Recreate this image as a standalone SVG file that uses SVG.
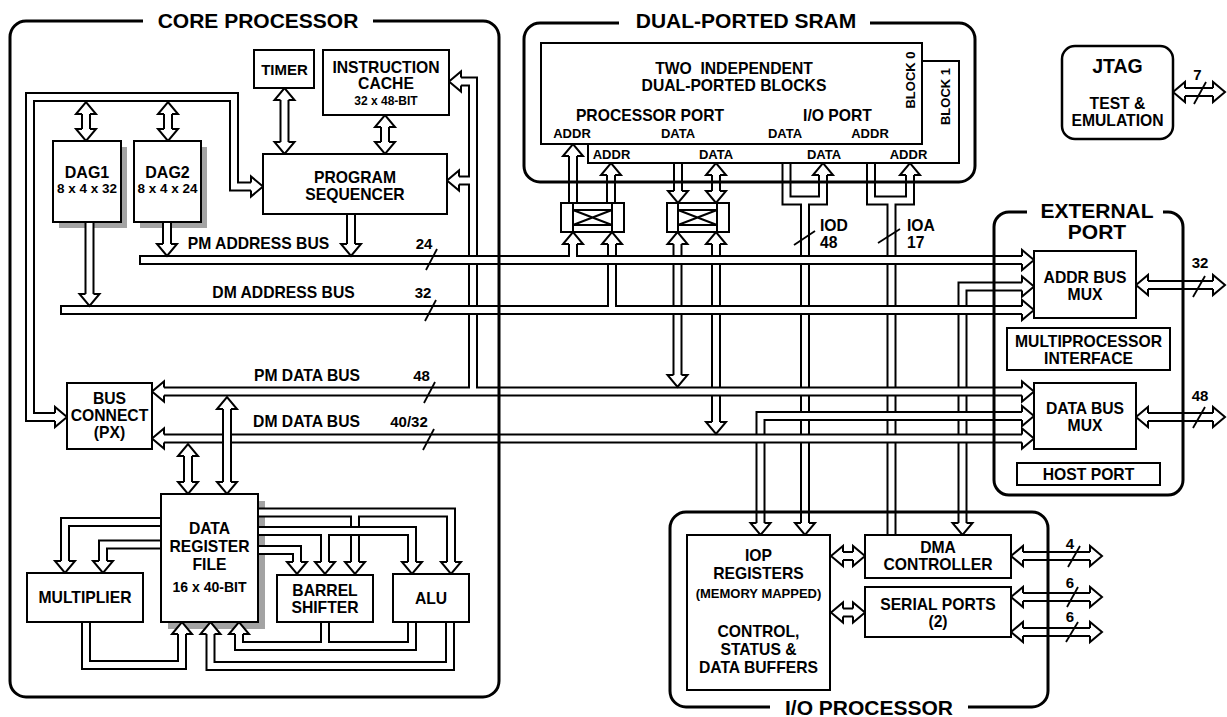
<svg xmlns="http://www.w3.org/2000/svg" width="1227" height="717" viewBox="0 0 1227 717">
<defs>
<style>
.fr{fill:none;stroke:#000;stroke-width:3}
.bx{fill:#fff;stroke:#000;stroke-width:2}
.sh{fill:#a3a3a3}
.bk{fill:none;stroke:#000;stroke-width:10}
.wh{fill:none;stroke:#fff;stroke-width:6}
.hd{fill:#fff;stroke:#000;stroke-width:2}
.ln{fill:none;stroke:#000;stroke-width:2}
.sl{fill:none;stroke:#000;stroke-width:1.8}
text{font-family:"Liberation Sans",Arial,Helvetica,sans-serif;font-weight:bold;fill:#000;text-anchor:middle}
.ttl{font-size:21px}
.m{font-size:15.7px}
.s{font-size:13px}
.n{font-size:15px}
.l{text-anchor:start}
</style>
<path id="h" d="M-12,-4V-10L0,0L-12,10V4"/>
<path id="pB1" d="M55,417H30V97H234V186.5H251"/>
<path id="pD1a" d="M86,114V129"/>
<path id="pD2a" d="M168,114V129"/>
<path id="pD1b" d="M89.5,222V294"/>
<path id="pD2b" d="M167,222V244"/>
<path id="pSeq" d="M351,214V244"/>
<path id="pTim" d="M284.5,100V142"/>
<path id="pCac" d="M385,127V142"/>
<path id="pB2" d="M461,81.5H473V391.5"/>
<path id="pB2b" d="M459,180.5H473"/>
<path id="pPMD" d="M164,391.5H1022"/>
<path id="pDMD" d="M164,438.5H1022"/>
<path id="pPMA" d="M139,260H1022"/>
<path id="pDMA" d="M60,310H1022"/>
<path id="pX1a" d="M573,244V260"/>
<path id="pX1b" d="M612,244V310"/>
<path id="pX2a" d="M677.5,244V375"/>
<path id="pX2b" d="M716,244V422"/>
<path id="pS1" d="M573,156V203"/>
<path id="pS2" d="M611,175V203"/>
<path id="pS3" d="M678,156V191"/>
<path id="pS4" d="M716,175V191"/>
<path id="pIOD1" d="M786.5,156V200.5H823V175"/>
<path id="pIOD2" d="M805,200.5V523"/>
<path id="pIOA1" d="M871,156V200.5H910V175"/>
<path id="pIOA2" d="M891.5,200.5V535"/>
<path id="pAM" d="M962.5,523V286.5H1022"/>
<path id="pDM2" d="M760.5,523V416H1022"/>
<path id="pRF1" d="M227,409V482"/>
<path id="pRF2" d="M188,456V482"/>
<path id="pMo" d="M161,522H65V561"/>
<path id="pMi" d="M161,544.5H103V561"/>
<path id="pA" d="M258,512.5H451V562"/>
<path id="pAb" d="M355,512.5V562"/>
<path id="pBb" d="M258,531H412V562"/>
<path id="pBb2" d="M325,531V562"/>
<path id="pC" d="M258,550H297V562"/>
<path id="pRm" d="M86,622V665H182V634"/>
<path id="pRa" d="M450,622V666H210.5V634"/>
<path id="pRb" d="M412,622V646H239V634"/>
<path id="pRb2" d="M325,622V646"/>
<path id="pIOd" d="M843,556H853"/>
<path id="pIOs" d="M843,612.5H853"/>
<path id="pDo" d="M1023,556H1090"/>
<path id="pS1o" d="M1023,597H1090"/>
<path id="pS2o" d="M1023,632H1090"/>
<path id="pEa" d="M1148,285H1213"/>
<path id="pEd" d="M1148,417H1213"/>
<path id="pJ" d="M1185,92H1213"/>
</defs>
<rect width="1227" height="717" fill="#fff"/>

<g id="shadows">
<rect class="sh" x="59" y="147" width="68" height="81"/>
<rect class="sh" x="140" y="147" width="67" height="81"/>
<rect class="sh" x="168" y="501" width="97" height="128"/>
</g>

<g id="connectors">
<!-- register file buses -->
<use href="#pMo" class="bk"/><use href="#pMo" class="wh"/>
<use href="#pMi" class="bk"/><use href="#pMi" class="wh"/>
<use href="#pA" class="bk"/><use href="#pAb" class="bk"/><use href="#pA" class="wh"/><use href="#pAb" class="wh"/>
<use href="#pBb" class="bk"/><use href="#pBb2" class="bk"/><use href="#pBb" class="wh"/><use href="#pBb2" class="wh"/>
<use href="#pC" class="bk"/><use href="#pC" class="wh"/>
<use href="#pRm" class="bk"/><use href="#pRm" class="wh"/>
<use href="#pRa" class="bk"/><use href="#pRa" class="wh"/>
<use href="#pRb" class="bk"/><use href="#pRb2" class="bk"/><use href="#pRb" class="wh"/><use href="#pRb2" class="wh"/>
<!-- core upper -->
<use href="#pB1" class="bk"/><use href="#pB1" class="wh"/>
<use href="#pD1a" class="bk"/><use href="#pD1a" class="wh"/>
<use href="#pD2a" class="bk"/><use href="#pD2a" class="wh"/>
<use href="#pD1b" class="bk"/><use href="#pD1b" class="wh"/>
<use href="#pD2b" class="bk"/><use href="#pD2b" class="wh"/>
<use href="#pSeq" class="bk"/><use href="#pSeq" class="wh"/>
<use href="#pTim" class="bk"/><use href="#pTim" class="wh"/>
<use href="#pCac" class="bk"/><use href="#pCac" class="wh"/>
<!-- sram ports -->
<use href="#pS1" class="bk"/><use href="#pS1" class="wh"/>
<use href="#pS2" class="bk"/><use href="#pS2" class="wh"/>
<use href="#pS3" class="bk"/><use href="#pS3" class="wh"/>
<use href="#pS4" class="bk"/><use href="#pS4" class="wh"/>
<use href="#pX2a" class="bk"/><use href="#pX2a" class="wh"/>
<use href="#pX2b" class="bk"/><use href="#pX2b" class="wh"/>
<use href="#pIOD1" class="bk"/><use href="#pIOD2" class="bk"/><use href="#pIOD1" class="wh"/><use href="#pIOD2" class="wh"/>
<use href="#pIOA1" class="bk"/><use href="#pIOA2" class="bk"/><use href="#pIOA1" class="wh"/><use href="#pIOA2" class="wh"/>
<use href="#pAM" class="bk"/><use href="#pAM" class="wh"/>
<use href="#pDM2" class="bk"/><use href="#pDM2" class="wh"/>
<!-- main buses -->
<use href="#pPMD" class="bk"/><use href="#pB2" class="bk"/><use href="#pB2b" class="bk"/>
<use href="#pPMD" class="wh"/><use href="#pB2" class="wh"/><use href="#pB2b" class="wh"/>
<use href="#pDMA" class="bk"/><use href="#pX1b" class="bk"/><use href="#pDMA" class="wh"/><use href="#pX1b" class="wh"/>
<use href="#pPMA" class="bk"/><use href="#pX1a" class="bk"/><use href="#pPMA" class="wh"/><use href="#pX1a" class="wh"/>
<use href="#pDMD" class="bk"/><use href="#pDMD" class="wh"/>
<use href="#pRF1" class="bk"/><use href="#pRF1" class="wh"/>
<use href="#pRF2" class="bk"/><use href="#pRF2" class="wh"/>
<!-- io / external -->
<use href="#pIOd" class="bk"/><use href="#pIOd" class="wh"/>
<use href="#pIOs" class="bk"/><use href="#pIOs" class="wh"/>
<use href="#pDo" class="bk"/><use href="#pDo" class="wh"/>
<use href="#pS1o" class="bk"/><use href="#pS1o" class="wh"/>
<use href="#pS2o" class="bk"/><use href="#pS2o" class="wh"/>
<use href="#pEa" class="bk"/><use href="#pEa" class="wh"/>
<use href="#pEd" class="bk"/><use href="#pEd" class="wh"/>
<use href="#pJ" class="bk"/><use href="#pJ" class="wh"/>
<!-- closed ends -->
<line class="ln" x1="140" y1="255" x2="140" y2="265"/>
<line class="ln" x1="61" y1="305" x2="61" y2="315"/>
<!-- heads -->
<g class="hd">
<use href="#h" transform="translate(67,417)"/>
<use href="#h" transform="translate(263,186.5)"/>
<use href="#h" transform="translate(86,102) rotate(-90)"/>
<use href="#h" transform="translate(86,141) rotate(90)"/>
<use href="#h" transform="translate(168,102) rotate(-90)"/>
<use href="#h" transform="translate(168,141) rotate(90)"/>
<use href="#h" transform="translate(89.5,306) rotate(90)"/>
<use href="#h" transform="translate(167,256) rotate(90)"/>
<use href="#h" transform="translate(351,256) rotate(90)"/>
<use href="#h" transform="translate(284.5,88) rotate(-90)"/>
<use href="#h" transform="translate(284.5,154) rotate(90)"/>
<use href="#h" transform="translate(385,115) rotate(-90)"/>
<use href="#h" transform="translate(385,154) rotate(90)"/>
<use href="#h" transform="translate(449,81.5) rotate(180)"/>
<use href="#h" transform="translate(447,180.5) rotate(180)"/>
<use href="#h" transform="translate(152,391.5) rotate(180)"/>
<use href="#h" transform="translate(1034,391.5)"/>
<use href="#h" transform="translate(152,438.5) rotate(180)"/>
<use href="#h" transform="translate(1034,438.5)"/>
<use href="#h" transform="translate(1034,260)"/>
<use href="#h" transform="translate(1034,310)"/>
<use href="#h" transform="translate(573,232) rotate(-90)"/>
<use href="#h" transform="translate(612,232) rotate(-90)"/>
<use href="#h" transform="translate(677.5,232) rotate(-90)"/>
<use href="#h" transform="translate(677.5,387) rotate(90)"/>
<use href="#h" transform="translate(716,232) rotate(-90)"/>
<use href="#h" transform="translate(716,434) rotate(90)"/>
<use href="#h" transform="translate(573,144) rotate(-90)"/>
<use href="#h" transform="translate(611,163) rotate(-90)"/>
<use href="#h" transform="translate(678,144) rotate(-90)"/>
<use href="#h" transform="translate(678,203) rotate(90)"/>
<use href="#h" transform="translate(716,163) rotate(-90)"/>
<use href="#h" transform="translate(716,203) rotate(90)"/>
<use href="#h" transform="translate(786.5,144) rotate(-90)"/>
<use href="#h" transform="translate(823,163) rotate(-90)"/>
<use href="#h" transform="translate(805,535) rotate(90)"/>
<use href="#h" transform="translate(871,144) rotate(-90)"/>
<use href="#h" transform="translate(910,163) rotate(-90)"/>
<use href="#h" transform="translate(962.5,535) rotate(90)"/>
<use href="#h" transform="translate(1034,286.5)"/>
<use href="#h" transform="translate(760.5,535) rotate(90)"/>
<use href="#h" transform="translate(1034,416)"/>
<use href="#h" transform="translate(227,397) rotate(-90)"/>
<use href="#h" transform="translate(227,494) rotate(90)"/>
<use href="#h" transform="translate(188,444) rotate(-90)"/>
<use href="#h" transform="translate(188,494) rotate(90)"/>
<use href="#h" transform="translate(65,573) rotate(90)"/>
<use href="#h" transform="translate(103,573) rotate(90)"/>
<use href="#h" transform="translate(451,574) rotate(90)"/>
<use href="#h" transform="translate(355,574) rotate(90)"/>
<use href="#h" transform="translate(412,574) rotate(90)"/>
<use href="#h" transform="translate(325,574) rotate(90)"/>
<use href="#h" transform="translate(297,574) rotate(90)"/>
<use href="#h" transform="translate(182,622) rotate(-90)"/>
<use href="#h" transform="translate(210.5,622) rotate(-90)"/>
<use href="#h" transform="translate(239,622) rotate(-90)"/>
<use href="#h" transform="translate(831,556) rotate(180)"/>
<use href="#h" transform="translate(865,556)"/>
<use href="#h" transform="translate(831,612.5) rotate(180)"/>
<use href="#h" transform="translate(865,612.5)"/>
<use href="#h" transform="translate(1011,556) rotate(180)"/>
<use href="#h" transform="translate(1102,556)"/>
<use href="#h" transform="translate(1011,597) rotate(180)"/>
<use href="#h" transform="translate(1102,597)"/>
<use href="#h" transform="translate(1011,632) rotate(180)"/>
<use href="#h" transform="translate(1102,632)"/>
<use href="#h" transform="translate(1136,285) rotate(180)"/>
<use href="#h" transform="translate(1225,285)"/>
<use href="#h" transform="translate(1136,417) rotate(180)"/>
<use href="#h" transform="translate(1225,417)"/>
<use href="#h" transform="translate(1173,92) rotate(180)"/>
<use href="#h" transform="translate(1225,92)"/>
</g>
<!-- bus labels and width slashes -->
<text class="m" x="258.5" y="249">PM ADDRESS BUS</text>
<text class="m" x="283.5" y="298">DM ADDRESS BUS</text>
<text class="m" x="307" y="381">PM DATA BUS</text>
<text class="m" x="306.5" y="427">DM DATA BUS</text>
<text class="n" x="424" y="249">24</text>
<text class="n" x="423" y="298">32</text>
<text class="n" x="421.5" y="381">48</text>
<text class="n" x="409" y="427">40/32</text>
<text class="m l" x="820" y="231">IOD</text>
<text class="m l" x="820" y="248">48</text>
<text class="m l" x="907" y="231">IOA</text>
<text class="m l" x="907" y="248">17</text>
<text class="n" x="1200" y="268">32</text>
<text class="n" x="1200" y="401">48</text>
<text class="n" x="1197.5" y="80">7</text>
<text class="n" x="1070" y="549">4</text>
<text class="n" x="1070" y="588">6</text>
<text class="n" x="1070" y="622">6</text>
<g class="sl">
<line x1="426" y1="270" x2="437" y2="249"/>
<line x1="425" y1="321" x2="436" y2="300"/>
<line x1="424" y1="403" x2="435" y2="382"/>
<line x1="423" y1="450" x2="434" y2="429"/>
<line x1="794" y1="245" x2="815" y2="231"/>
<line x1="878" y1="243" x2="900" y2="229"/>
<line x1="1193" y1="297" x2="1205" y2="276"/>
<line x1="1193" y1="428" x2="1205" y2="407"/>
<line x1="1194" y1="104" x2="1206" y2="82"/>
<line x1="1068" y1="567" x2="1080" y2="546"/>
<line x1="1067" y1="607" x2="1078" y2="587"/>
<line x1="1066" y1="642" x2="1078" y2="622"/>
</g>
</g>

<g id="timer"><rect class="bx" x="254" y="50" width="60" height="38"/><text class="n" x="284.5" y="75">TIMER</text></g>
<g id="instruction-cache"><rect class="bx" x="323" y="50" width="126" height="65"/>
<text class="m" x="386" y="73">INSTRUCTION</text><text class="m" x="386" y="89">CACHE</text><text x="386" y="105" font-size="12">32 x 48-BIT</text></g>
<g id="program-sequencer"><rect class="bx" x="263" y="154" width="184" height="60"/>
<text class="m" x="355" y="183">PROGRAM</text><text class="m" x="355" y="200">SEQUENCER</text></g>
<g id="dag1"><rect class="bx" x="53" y="141" width="68" height="81"/>
<text x="87" y="178" font-size="16">DAG1</text><text x="87" y="193" font-size="13.5">8 x 4 x 32</text></g>
<g id="dag2"><rect class="bx" x="134" y="141" width="67" height="81"/>
<text x="167.5" y="178" font-size="16">DAG2</text><text x="167.5" y="193" font-size="13.5">8 x 4 x 24</text></g>
<g id="bus-connect"><rect class="bx" x="67" y="383" width="85" height="66"/>
<text class="m" x="109.5" y="404">BUS</text><text class="m" x="109.5" y="421">CONNECT</text><text class="m" x="109.5" y="438">(PX)</text></g>
<g id="data-register-file"><rect class="bx" x="161" y="494" width="97" height="128"/>
<text class="m" x="209.5" y="534">DATA</text><text class="m" x="209.5" y="552">REGISTER</text><text class="m" x="209.5" y="570">FILE</text><text x="209.5" y="592" font-size="14">16 x 40-BIT</text></g>
<g id="multiplier"><rect class="bx" x="27" y="573" width="116" height="49"/><text class="m" x="85" y="603">MULTIPLIER</text></g>
<g id="barrel-shifter"><rect class="bx" x="277" y="575" width="96" height="47"/>
<text class="m" x="325" y="596">BARREL</text><text class="m" x="325" y="613">SHIFTER</text></g>
<g id="alu"><rect class="bx" x="393" y="574" width="76" height="48"/><text class="m" x="431" y="604">ALU</text></g>

<g id="sram-block1"><rect class="bx" x="588" y="61" width="371" height="102"/>
<text class="s" x="611.5" y="159">ADDR</text><text class="s" x="716" y="159">DATA</text><text class="s" x="824" y="159">DATA</text><text class="s" x="908.5" y="159">ADDR</text>
<text class="s" transform="translate(950,96.5) rotate(-90)">BLOCK 1</text></g>
<g id="sram-block0"><rect class="bx" x="541" y="43" width="381" height="101"/>
<text class="m" x="734" y="74" style="white-space:pre">TWO  INDEPENDENT</text><text class="m" x="734" y="91">DUAL-PORTED BLOCKS</text>
<text class="m" x="650" y="121">PROCESSOR PORT</text><text class="m" x="837.5" y="121">I/O PORT</text>
<text class="s" x="572" y="138">ADDR</text><text class="s" x="678" y="138">DATA</text><text class="s" x="785" y="138">DATA</text><text class="s" x="870" y="138">ADDR</text>
<text class="s" transform="translate(915,80) rotate(-90)">BLOCK 0</text></g>
<g id="crossbar1"><rect class="bx" x="561" y="203" width="63" height="29"/>
<path class="ln" d="M573,203V232M612,203V232M573,210H612M573,225H612M573,210L612,225M573,225L612,210"/></g>
<g id="crossbar2"><rect class="bx" x="667" y="203" width="62" height="29"/>
<path class="ln" d="M678,203V232M717,203V232M678,210H717M678,225H717M678,210L717,225M678,225L717,210"/></g>

<g id="addr-bus-mux"><rect class="bx" x="1034" y="251" width="102" height="67"/>
<text class="m" x="1085" y="283">ADDR BUS</text><text class="m" x="1085" y="300">MUX</text></g>
<g id="multiprocessor-interface"><rect class="bx" x="1007" y="328" width="163" height="42"/>
<text class="m" x="1088.5" y="347">MULTIPROCESSOR</text><text class="m" x="1088.5" y="364">INTERFACE</text></g>
<g id="data-bus-mux"><rect class="bx" x="1034" y="383" width="102" height="66"/>
<text class="m" x="1085" y="414">DATA BUS</text><text class="m" x="1085" y="431">MUX</text></g>
<g id="host-port"><rect class="bx" x="1017" y="463" width="143" height="22"/><text class="m" x="1088.5" y="480">HOST PORT</text></g>

<g id="iop-registers"><rect class="bx" x="687" y="535" width="143" height="155"/>
<text class="m" x="758.5" y="561">IOP</text><text class="m" x="758.5" y="579">REGISTERS</text><text class="s" x="758.5" y="598">(MEMORY MAPPED)</text>
<text class="m" x="758.5" y="637">CONTROL,</text><text class="m" x="758.5" y="655">STATUS &amp;</text><text class="m" x="758.5" y="673">DATA BUFFERS</text></g>
<g id="dma-controller"><rect class="bx" x="865" y="535" width="146" height="43"/>
<text class="m" x="938" y="553">DMA</text><text class="m" x="938" y="570">CONTROLLER</text></g>
<g id="serial-ports"><rect class="bx" x="865" y="587" width="146" height="50"/>
<text class="m" x="938" y="610">SERIAL PORTS</text><text class="m" x="938" y="627">(2)</text></g>

<g id="jtag"><rect x="1062" y="46" width="111" height="93" rx="13" fill="#fff" stroke="#000" stroke-width="2.5"/>
<text x="1117.5" y="73" font-size="19.5">JTAG</text><text class="m" x="1117.5" y="109">TEST &amp;</text><text class="m" x="1117.5" y="126">EMULATION</text></g>

<g id="core-processor">
<path class="fr" d="M143,21H26A16,16 0 0 0 10,37V681A16,16 0 0 0 26,697H483A16,16 0 0 0 499,681V37A16,16 0 0 0 483,21H373"/>
<text class="ttl" x="258" y="28">CORE PROCESSOR</text></g>
<g id="dual-ported-sram">
<path class="fr" d="M619,23H540A16,16 0 0 0 524,39V166A16,16 0 0 0 540,182H959A16,16 0 0 0 975,166V39A16,16 0 0 0 959,23H870"/>
<text class="ttl" x="746" y="28">DUAL-PORTED SRAM</text></g>
<g id="external-port">
<path class="fr" d="M1027,212H1009A15,15 0 0 0 994,227V480A15,15 0 0 0 1009,495H1168A15,15 0 0 0 1183,480V227A15,15 0 0 0 1168,212H1163"/>
<text class="ttl" x="1097" y="218">EXTERNAL</text><text class="ttl" x="1097" y="239">PORT</text></g>
<g id="io-processor">
<path class="fr" d="M770,707H686A16,16 0 0 1 670,691V528A16,16 0 0 1 686,512H1032A16,16 0 0 1 1048,528V691A16,16 0 0 1 1032,707H968"/>
<text class="ttl" x="869" y="715">I/O PROCESSOR</text></g>
</svg>
